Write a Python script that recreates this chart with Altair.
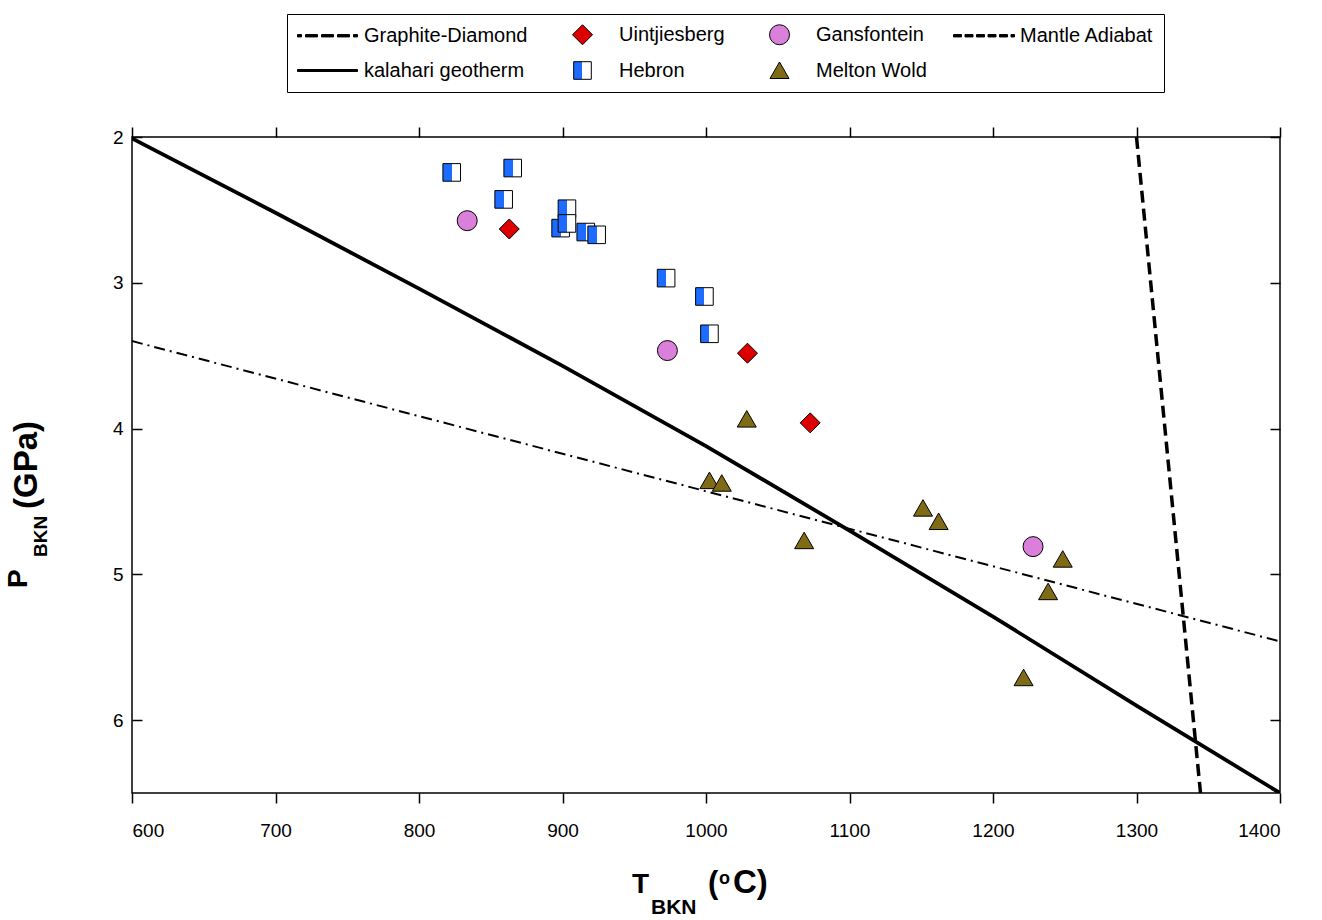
import altair as alt
import pandas as pd

# ---------------- data ----------------
hebron_T = [822.8, 865.3, 859.0, 903.1, 898.7, 903.1, 916.2, 923.8, 972.2, 998.9, 1002.4]
hebron_P = [2.243, 2.213, 2.428, 2.492, 2.625, 2.593, 2.652, 2.671, 2.968, 3.094, 3.350]
uint_T = [862.9, 1028.9, 1072.6]
uint_P = [2.631, 3.483, 3.961]
gans_T = [833.6, 973.1, 1227.9]
gans_P = [2.574, 3.465, 4.810]
melton_T = [1028.4, 1002.4, 1011.0, 1068.4, 1151.2, 1162.1, 1248.6, 1238.4, 1221.3]
melton_P = [3.935, 4.357, 4.375, 4.769, 4.546, 4.638, 4.896, 5.119, 5.709]

geotherm_T = [600, 700, 800, 900, 1000, 1100, 1200, 1300, 1400]
geotherm_P = [2.01, 2.52, 3.04, 3.57, 4.12, 4.70, 5.29, 5.90, 6.50]
gd_T = [600, 1400]
gd_P = [3.40, 5.46]
adiabat_T = [1300, 1344.6]
adiabat_P = [2.0, 6.5]

# legend order (laid out column by column, two rows)
series_order = ["Graphite-Diamond", "kalahari geotherm", "Uintjiesberg", "Hebron",
                "Gansfontein", "Melton Wold", "Mantle Adiabat"]
x_ticks = [600, 700, 800, 900, 1000, 1100, 1200, 1300, 1400]
y_ticks = [2, 3, 4, 5, 6]

# ---------------- tables ----------------
pts = pd.concat([
    pd.DataFrame({"T": hebron_T, "P": hebron_P, "series": "Hebron"}),
    pd.DataFrame({"T": uint_T, "P": uint_P, "series": "Uintjiesberg"}),
    pd.DataFrame({"T": gans_T, "P": gans_P, "series": "Gansfontein"}),
    pd.DataFrame({"T": melton_T, "P": melton_P, "series": "Melton Wold"}),
], ignore_index=True)
geo = pd.DataFrame({"T": geotherm_T, "P": geotherm_P})
gd = pd.DataFrame({"T": gd_T, "P": gd_P})
adi = pd.DataFrame({"T": adiabat_T, "P": adiabat_P})

W, H = 1148, 656
FONT = "Liberation Sans"

xscale = alt.Scale(domain=[600, 1400], nice=False, zero=False)
yscale = alt.Scale(domain=[2, 6.5], nice=False, zero=False, reverse=True)

# bottom / inner-left axes (line layers)
xA = alt.X("T:Q", scale=xscale, axis=alt.Axis(
    orient="bottom", values=x_ticks, format="d", tickSize=10, tickWidth=1.5, tickColor="black",
    labelPadding=18, labelFontSize=19, labelFont=FONT, labelColor="black",
    domain=False, grid=False, title=None))
yA = alt.Y("P:Q", scale=yscale, axis=alt.Axis(
    orient="right", offset=-W, values=y_ticks, format="d", tickSize=10, tickWidth=1.5,
    tickColor="black", labelAlign="right", labelPadding=-19, labelFontSize=19, labelFont=FONT,
    labelColor="black", domain=False, grid=False, title=None))
# top / inner-right axes (point layer)
xB = alt.X("T:Q", scale=xscale, axis=alt.Axis(
    orient="top", values=x_ticks, tickSize=10, tickWidth=1.5, tickColor="black",
    labels=False, domain=False, grid=False, title=None))
yB = alt.Y("P:Q", scale=yscale, axis=alt.Axis(
    orient="left", offset=-W, values=y_ticks, tickSize=10, tickWidth=1.5, tickColor="black",
    labels=False, domain=False, grid=False, title=None))

geo_line = alt.Chart(geo).mark_line(color="black", strokeWidth=3.8, clip=True).encode(x=xA, y=yA)
gd_line = alt.Chart(gd).mark_line(color="black", strokeWidth=2, strokeDash=[11, 5, 2, 5], clip=True).encode(x=xA, y=yA)
adi_line = alt.Chart(adi).mark_line(color="black", strokeWidth=3.5, strokeDash=[12, 6], clip=True).encode(x=xA, y=yA)
lines = alt.layer(gd_line, geo_line, adi_line)

hebron_fill = {"expr": "{gradient: 'linear', x1: 0, y1: 0, x2: 1, y2: 0, stops: ["
                       "{offset: 0, color: '#1e6cff'}, {offset: 0.5, color: '#1e6cff'}, "
                       "{offset: 0.5, color: '#ffffff'}, {offset: 1, color: '#ffffff'}]}"}

gd_path = ("M-3,-0.12H-2.6V0.12H-3Z M-2.2,-0.12H-1.0V0.12H-2.2Z "
           "M-0.6,-0.12H0.6V0.12H-0.6Z M1.0,-0.12H2.2V0.12H1.0Z M2.6,-0.12H3V0.12H2.6Z")
adi_path = ("M-3,-0.12H-2.2V0.12H-3Z M-1.85,-0.12H-1.05V0.12H-1.85Z M-0.7,-0.12H0.1V0.12H-0.7Z "
            "M0.45,-0.12H1.25V0.12H0.45Z M1.6,-0.12H2.4V0.12H1.6Z M2.75,-0.12H3.1V0.12H2.75Z")
geo_path = "M-3,-0.1H3V0.1H-3Z"

style = {
    "Graphite-Diamond": ("black", gd_path),
    "kalahari geotherm": ("black", geo_path),
    "Uintjiesberg": ("#dd0000", "M-1,0L0,-1L1,0L0,1Z"),
    "Hebron": (hebron_fill, "M-0.88,-0.88H0.88V0.88H-0.88Z"),
    "Gansfontein": ("#da80da", "circle"),
    "Melton Wold": ("#7f6a16", "M0,-0.85L0.95,0.8L-0.95,0.8Z"),
    "Mantle Adiabat": ("black", adi_path),
}
fill_range = [style[s][0] for s in series_order]
shape_range = [style[s][1] for s in series_order]

legend = alt.Legend(
    title=None, orient="none", legendX=155, legendY=-123, columns=4,
    columnPadding=24, rowPadding=12, padding=10, strokeColor="black",
    labelFont=FONT, labelFontSize=20, labelColor="black", labelLimit=400,
    symbolSize=400, symbolStrokeColor="black", symbolStrokeWidth=1,
    symbolOffset=20, labelOffset=26)

points = alt.Chart(pts).mark_point(filled=True, opacity=1, size=400, strokeWidth=1).encode(
    x=xB, y=yB,
    fill=alt.Fill("series:N", scale=alt.Scale(domain=series_order, range=fill_range), legend=legend),
    shape=alt.Shape("series:N", scale=alt.Scale(domain=series_order, range=shape_range), legend=legend),
    stroke=alt.Stroke("series:N", scale=alt.Scale(domain=series_order, range=["black"] * 7), legend=legend),
)


def label(text, x, y, size, angle=0):
    return alt.Chart(alt.Data(values=[{}])).mark_text(
        text=text, font=FONT, fontWeight="bold", fontSize=size, angle=angle,
        align="left", baseline="alphabetic", color="black").encode(
        x=alt.value(x), y=alt.value(y))


titles = [
    label("T", 500, 756, 28),
    label("BKN", 519, 777, 21),
    label("(", 576, 756, 31),
    label("o", 587, 747, 18),
    label("C)", 601, 756, 33),
    label("P", -105, 451, 28, angle=270),
    label("BKN", -85, 420, 19, angle=270),
    label("(GPa)", -95, 372, 33, angle=270),
]

chart = alt.layer(lines, points, *titles).resolve_axis(
    x="independent", y="independent"
).properties(
    width=W, height=H,
    autosize=alt.AutoSizeParams(type="none"),
    padding={"left": 132, "top": 137, "right": 42, "bottom": 127},
).configure_view(stroke="black", strokeWidth=1.5)

chart.save("out.html", embed_options={"renderer": "svg", "actions": False})
